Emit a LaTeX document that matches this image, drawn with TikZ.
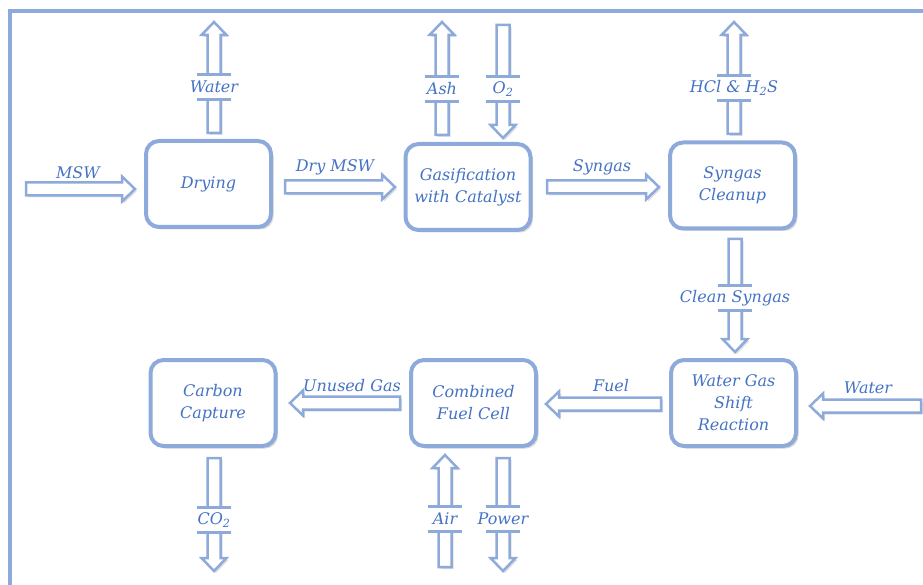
\documentclass[tikz,border=0pt]{standalone}
\usepackage{fontspec}
\setmainfont{DejaVu Serif}
\usetikzlibrary{calc,shadows}
\definecolor{lineblue}{HTML}{8EAADB}
\definecolor{textblue}{HTML}{4472C4}
\newcommand\lblfont{\itshape\fontsize{16}{22}\selectfont}
\tikzset{
  proc/.style={draw=lineblue, line width=4pt, rounded corners=13pt, fill=white,
    minimum width=125pt, minimum height=86pt, align=center, text=textblue, font=\lblfont,
    drop shadow={opacity=0.3, shadow xshift=2.5pt, shadow yshift=-2.5pt}},
  flowarrow/.style={draw=lineblue, line width=2.5pt, fill=white, line join=miter,
    drop shadow={opacity=0.25, shadow xshift=2pt, shadow yshift=-2pt}},
  lbl/.style={text=textblue, font=\lblfont, inner sep=0pt},
  gapbox/.style={fill=white, minimum width=34pt, minimum height=25pt, inner sep=0pt},
  bar/.style={draw=lineblue, line width=2.5pt},
  frame/.style={draw=lineblue, line width=3.5pt},
}
% block arrow from coordinate #1 to coordinate #2
\newcommand\flow[2]{%
  \coordinate (hb) at ($(#2)!13pt!(#1)$);
  \draw[flowarrow] ($(#1)!6.5pt!90:(#2)$) -- ($(hb)!6.5pt!90:(#2)$) -- ($(hb)!12.5pt!90:(#2)$)
    -- (#2) -- ($(hb)!12.5pt!-90:(#2)$) -- ($(hb)!6.5pt!-90:(#2)$) -- ($(#1)!6.5pt!-90:(#2)$) -- cycle;
}
\newcommand\gaplabel[3]{%
  \node[gapbox] (#1) at (#2) {};
  \draw[bar] (#1.north west) -- (#1.north east) (#1.south west) -- (#1.south east);
  \node[lbl] (#1t) at (#1) {#3};
}
\begin{document}
\begin{tikzpicture}[x=1pt,y=-1pt]
\useasboundingbox (0,0) rectangle (923,585);
% frame
\coordinate (fa) at (10,587);
\coordinate (fb) at (10,11);
\coordinate (fc) at (925,11);
\draw[frame] (fa) -- (fb) -- (fc);

% process boxes
\node[proc] (dry) at (208.5,184) {Drying};
\node[proc] (gas) at (468,187) {Gasification\\with Catalyst};
\node[proc] (clean) at (732.5,185.5) {Syngas\\Cleanup};
\node[proc] (wgs) at (733.5,403) {Water Gas\\Shift\\Reaction};
\node[proc] (fc) at (473.5,403) {Combined\\Fuel Cell};
\node[proc] (cc) at (213,403) {Carbon\\Capture};

% arrow end points
\coordinate (msw0) at (26,189);   \coordinate (msw1) at (135,189);
\coordinate (dm0) at (285,187);   \coordinate (dm1) at (395,187);
\coordinate (sg0) at (547,187);   \coordinate (sg1) at (659,187);
\coordinate (w0) at (214,133);    \coordinate (w1) at (214,22);
\coordinate (ash0) at (442,135);  \coordinate (ash1) at (442,22);
\coordinate (ox0) at (503,25);    \coordinate (ox1) at (503,138);
\coordinate (hc0) at (734,134);   \coordinate (hc1) at (734,22);
\coordinate (cs0) at (735,239);   \coordinate (cs1) at (735,352);
\coordinate (co0) at (214,458);   \coordinate (co1) at (214,571);
\coordinate (air0) at (445,567);  \coordinate (air1) at (445,455);
\coordinate (pw0) at (503,458);   \coordinate (pw1) at (503,571);
\coordinate (fu0) at (661,404);   \coordinate (fu1) at (546,404);
\coordinate (ug0) at (400,403);   \coordinate (ug1) at (290,403);
\coordinate (wr0) at (921,406);   \coordinate (wr1) at (810,406);

\flow{msw0}{msw1}
\flow{dm0}{dm1}
\flow{sg0}{sg1}
\flow{w0}{w1}
\flow{ash0}{ash1}
\flow{ox0}{ox1}
\flow{hc0}{hc1}
\flow{cs0}{cs1}
\flow{co0}{co1}
\flow{air0}{air1}
\flow{pw0}{pw1}
\flow{fu0}{fu1}
\flow{ug0}{ug1}
\flow{wr0}{wr1}

% labels above horizontal arrows
\node[lbl] (lmsw) at (78,173) {MSW};
\node[lbl] (ldm) at (335,167) {Dry MSW};
\node[lbl] (lsg) at (602,167) {Syngas};
\node[lbl] (lug) at (352,386) {Unused Gas};
\node[lbl] (lfu) at (611,386) {Fuel};
\node[lbl] (lwr) at (868,388) {Water};

% labels within vertical arrows
\gaplabel{lw}{214,87}{Water}
\gaplabel{lash}{442,89}{Ash}
\gaplabel{lox}{503,89}{O\textsubscript{2}}
\gaplabel{lhc}{734,88}{HCl \& H\textsubscript{2}S}
\gaplabel{lcs}{735,298}{Clean Syngas}
\gaplabel{lco}{214,520}{CO\textsubscript{2}}
\gaplabel{lair}{445,519}{Air}
\gaplabel{lpw}{503,519}{Power}
\end{tikzpicture}
\end{document}
